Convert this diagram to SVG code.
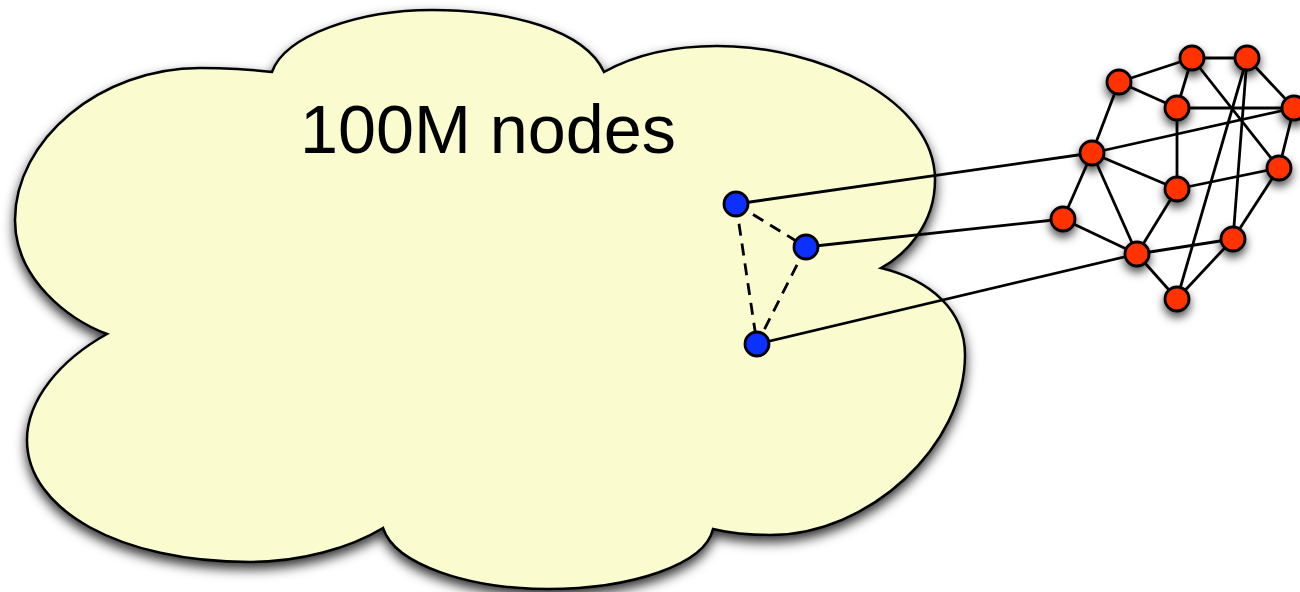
<svg xmlns="http://www.w3.org/2000/svg" width="1300" height="592" viewBox="0 0 1300 592">
  <defs>
    <filter id="shadow" x="-20%" y="-20%" width="140%" height="150%">
      <feDropShadow dx="0" dy="6" stdDeviation="6" flood-color="#000" flood-opacity="0.8"/>
    </filter>
    <filter id="nodeShadow" x="-100%" y="-100%" width="300%" height="300%">
      <feDropShadow dx="0" dy="5" stdDeviation="5" flood-color="#000" flood-opacity="0.7"/>
    </filter>
  </defs>
  <style>
    .cloud { fill: #fafcd0; stroke: #000; stroke-width: 2.5; }
    .edge { stroke: #000; stroke-width: 2.8; fill: none; }
    .dash { stroke: #000; stroke-width: 2.8; fill: none; stroke-dasharray: 12 8; }
    .red { fill: #ff3300; stroke: #000; stroke-width: 2.8; filter: url(#nodeShadow); }
    .blue { fill: #0b30ff; stroke: #000; stroke-width: 2.8; }
    .label { font-family: "Liberation Sans", Arial, sans-serif; font-size: 68px; fill: #000; }
  </style>

  <!-- large cloud -->
  <g id="cloud">
    <path class="cloud" filter="url(#shadow)" d="
      M 272 72
      C 285 35 360 10 432 10
      C 510 10 585 30 604 72
      C 640 52 680 46 717 46
      C 820 46 935 100 935 180
      C 935 225 905 255 881 268
      C 930 280 965 310 965 355
      C 965 445 870 535 770 535
      C 745 535 725 532 713 529
      C 705 565 630 589 548 589
      C 470 589 395 565 383 528
      C 350 548 300 562 250 562
      C 120 562 27 510 27 440
      C 27 400 60 360 107 334
      C 70 320 15 280 15 220
      C 15 140 100 68 200 68
      C 230 68 255 70 272 72 Z"/>
    <text class="label" x="300" y="153" textLength="376" lengthAdjust="spacingAndGlyphs">100M nodes</text>
  </g>

  <!-- connectors -->
  <g id="connectors">
    <!-- triangle inside the cloud -->
    <line class="dash" x1="736" y1="204" x2="806" y2="247"/>
    <line class="dash" x1="736" y1="204" x2="757" y2="344"/>
    <line class="dash" x1="806" y1="247" x2="757" y2="344"/>
    <!-- links out to the small network -->
    <line class="edge" x1="736" y1="204" x2="1092" y2="153"/>
    <line class="edge" x1="806" y1="247" x2="1063" y2="219"/>
    <line class="edge" x1="757" y1="344" x2="1137" y2="254"/>
    <!-- small network -->
    <line class="edge" x1="1119" y1="82" x2="1192" y2="58"/>
    <line class="edge" x1="1119" y1="82" x2="1177" y2="108"/>
    <line class="edge" x1="1119" y1="82" x2="1092" y2="153"/>
    <line class="edge" x1="1192" y1="58" x2="1247" y2="58"/>
    <line class="edge" x1="1192" y1="58" x2="1177" y2="108"/>
    <line class="edge" x1="1192" y1="58" x2="1279" y2="168"/>
    <line class="edge" x1="1247" y1="58" x2="1294" y2="108"/>
    <line class="edge" x1="1247" y1="58" x2="1233" y2="239"/>
    <line class="edge" x1="1247" y1="58" x2="1177" y2="299"/>
    <line class="edge" x1="1177" y1="108" x2="1294" y2="108"/>
    <line class="edge" x1="1177" y1="108" x2="1177" y2="189"/>
    <line class="edge" x1="1092" y1="153" x2="1294" y2="108"/>
    <line class="edge" x1="1294" y1="108" x2="1279" y2="168"/>
    <line class="edge" x1="1092" y1="153" x2="1177" y2="189"/>
    <line class="edge" x1="1092" y1="153" x2="1063" y2="219"/>
    <line class="edge" x1="1092" y1="153" x2="1137" y2="254"/>
    <line class="edge" x1="1177" y1="189" x2="1279" y2="168"/>
    <line class="edge" x1="1177" y1="189" x2="1137" y2="254"/>
    <line class="edge" x1="1063" y1="219" x2="1137" y2="254"/>
    <line class="edge" x1="1137" y1="254" x2="1233" y2="239"/>
    <line class="edge" x1="1233" y1="239" x2="1279" y2="168"/>
    <line class="edge" x1="1137" y1="254" x2="1177" y2="299"/>
    <line class="edge" x1="1233" y1="239" x2="1177" y2="299"/>
  </g>

  <!-- blue nodes -->
  <g id="blue-1"><circle class="blue" cx="736" cy="204" r="12"/></g>
  <g id="blue-2"><circle class="blue" cx="806" cy="247" r="12"/></g>
  <g id="blue-3"><circle class="blue" cx="757" cy="344" r="12"/></g>

  <!-- red nodes -->
  <g id="red-a"><circle class="red" cx="1119" cy="82" r="12"/></g>
  <g id="red-b"><circle class="red" cx="1192" cy="58" r="12"/></g>
  <g id="red-c"><circle class="red" cx="1247" cy="58" r="12"/></g>
  <g id="red-d"><circle class="red" cx="1177" cy="108" r="12"/></g>
  <g id="red-e"><circle class="red" cx="1294" cy="108" r="12"/></g>
  <g id="red-f"><circle class="red" cx="1092" cy="153" r="12"/></g>
  <g id="red-g"><circle class="red" cx="1279" cy="168" r="12"/></g>
  <g id="red-h"><circle class="red" cx="1177" cy="189" r="12"/></g>
  <g id="red-i"><circle class="red" cx="1063" cy="219" r="12"/></g>
  <g id="red-j"><circle class="red" cx="1233" cy="239" r="12"/></g>
  <g id="red-k"><circle class="red" cx="1137" cy="254" r="12"/></g>
  <g id="red-l"><circle class="red" cx="1177" cy="299" r="12"/></g>
</svg>
